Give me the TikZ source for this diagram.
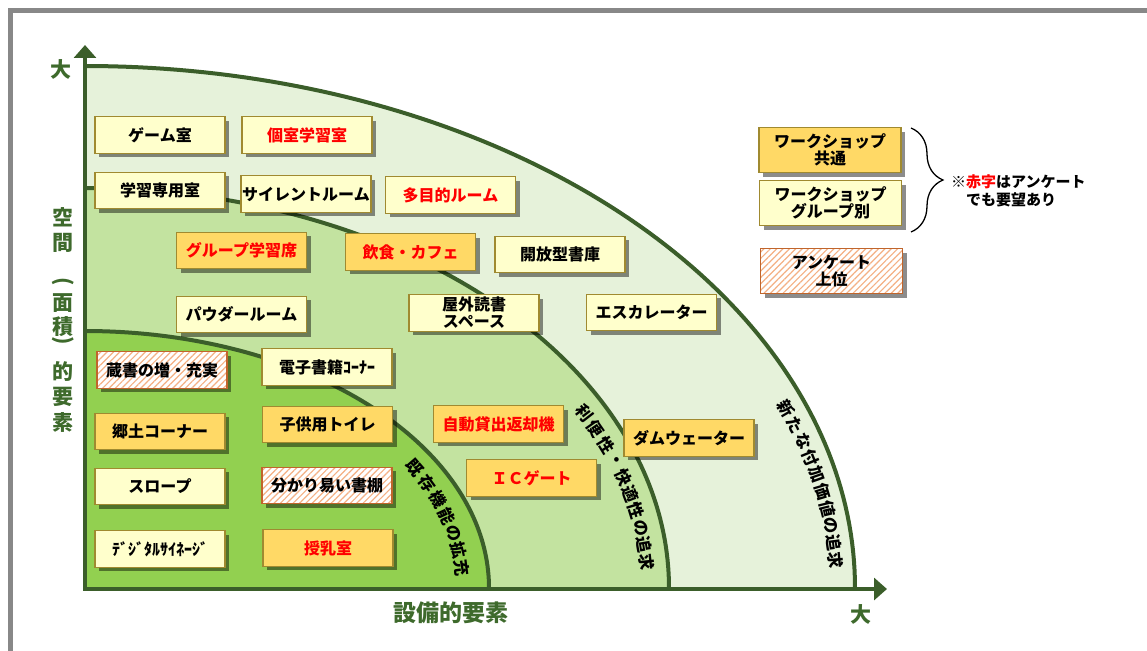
\documentclass[tikz,border=0pt]{standalone}
\usepackage{fontspec}
\setmainfont{Noto Sans CJK JP}
\usetikzlibrary{arrows.meta,shadows,patterns.meta,decorations.pathreplacing}
\definecolor{gline}{HTML}{3B5E2A}
\definecolor{glab}{HTML}{3E6A2C}
\definecolor{gouter}{HTML}{E6F2DA}
\definecolor{gmid}{HTML}{C3E3A0}
\definecolor{ginner}{HTML}{92D050}
\definecolor{byellow}{HTML}{FFFFCC}
\definecolor{borange}{HTML}{FFD966}
\definecolor{bborder}{HTML}{A08A30}
\definecolor{hatchc}{HTML}{F4B084}
\definecolor{hatchb}{HTML}{C0652C}
\definecolor{framegray}{HTML}{888888}
\begin{document}
\begin{tikzpicture}[x=1pt,y=-1pt,
  box/.style={draw=bborder, line width=1.3pt, minimum width=130pt, minimum height=36.5pt,
    inner sep=0pt, font=\bfseries\fontsize{16}{17}\selectfont, align=center,
    drop shadow={shadow xshift=4pt, shadow yshift=-4pt, fill=black, opacity=0.45}},
  ybox/.style={box, fill=byellow},
  obox/.style={box, fill=borange},
  hbox/.style={box, draw=hatchb, preaction={fill=white},
    pattern={Lines[angle=45,distance=4.5pt,line width=1.2pt]}, pattern color=hatchc},
  lbox/.style={minimum width=142pt, minimum height=45pt},
  redtxt/.style={text=red},
  axlab/.style={text=glab, font=\bfseries\fontsize{21}{21}\selectfont, inner sep=0pt},
  curvelab/.style={font=\bfseries\fontsize{16.5}{16.5}\selectfont, inner sep=0pt}
]
\useasboundingbox (0,0) rectangle (1147,650);
% frame
\draw[framegray, line width=5pt] (10.5,655) -- (10.5,10.5) -- (1152,10.5);
% regions
\fill[gouter] (85,588) -- plot[domain=90:0,samples=91] ({85+770*cos(\x)},{588-522*sin(\x)}) -- cycle;
\fill[gmid] (85,588) -- plot[domain=90:0,samples=91] ({85+584*cos(\x)},{588-400*sin(\x)}) -- cycle;
\fill[ginner] (85,588) -- plot[domain=90:0,samples=91] ({85+404*cos(\x)},{588-257*sin(\x)}) -- cycle;
\draw[gline, line width=4pt] plot[domain=90:0,samples=91] ({85+770*cos(\x)},{588-522*sin(\x)});
\draw[gline, line width=4pt] plot[domain=90:0,samples=91] ({85+584*cos(\x)},{588-400*sin(\x)});
\draw[gline, line width=4pt] plot[domain=90:0,samples=91] ({85+404*cos(\x)},{588-257*sin(\x)});
% axes
\coordinate (O) at (85,589);
\coordinate (ytip) at (85,45);
\coordinate (xtip) at (887,589);
\draw[gline, line width=4.5pt, {Triangle[length=13pt,width=22pt]}-{Triangle[length=13pt,width=22pt]}] (ytip) -- (O) -- (xtip);
% axis labels
\node[axlab] (ybig) at (61,69) {大};
\node[axlab] (xbig) at (861,614) {大};
\node[axlab, font=\bfseries\fontsize{23}{23}\selectfont] (xlab) at (451,613) {設備的要素};
\foreach \c/\yy [count=\i] in {空/217,間/243,面/303,積/327,的/372,要/397,素/422}
  \node[axlab] (yl\i) at (63,\yy) {\c};
\node[axlab, rotate=-90] (ypo) at (63,282) {(};
\node[axlab, rotate=-90] (ypc) at (63,341) {)};
% curved labels
\foreach \c [count=\i] in {既,存,機,能,の,拡,充} {
  \pgfmathsetmacro{\t}{29.3-4.1*(\i-1)}
  \pgfmathsetmacro{\r}{atan2(-245*cos(\t),378*sin(\t))}
  \node[curvelab, rotate=\r] (inl\i) at ({85+378*cos(\t)},{588-245*sin(\t)}) {\c};
}
\foreach \c [count=\i] in {利,便,性,・,快,適,性,の,追,求} {
  \pgfmathsetmacro{\t}{27.5-2.62*(\i-1)}
  \pgfmathsetmacro{\r}{atan2(-378*cos(\t),563*sin(\t))}
  \node[curvelab, rotate=\r] (mdl\i) at ({85+563*cos(\t)},{588-378*sin(\t)}) {\c};
}
\foreach \c [count=\i] in {新,た,な,付,加,価,値,の,追,求} {
  \pgfmathsetmacro{\t}{21.2-2.0*(\i-1)}
  \pgfmathsetmacro{\r}{atan2(-497*cos(\t),752*sin(\t))}
  \node[curvelab, rotate=\r] (otl\i) at ({85+752*cos(\t)},{588-497*sin(\t)}) {\c};
}
% boxes
\node[ybox] (b1) at (160,135) {ゲーム室};
\node[ybox, redtxt] (b2) at (307,135) {個室学習室};
\node[ybox] (b3) at (160,190.5) {学習専用室};
\node[ybox] (b4) at (306,194) {サイレントルーム};
\node[ybox, redtxt] (b5) at (450.5,195) {多目的ルーム};
\node[obox, redtxt] (b6) at (241.5,250.5) {グループ学習席};
\node[obox, redtxt] (b7) at (410.5,252) {飲食・カフェ};
\node[ybox] (b8) at (560,254.5) {開放型書庫};
\node[ybox] (b9) at (241.5,314.5) {パウダールーム};
\node[ybox] (b10) at (474,313) {屋外読書\\スペース};
\node[ybox] (b11) at (651.5,312.5) {エスカレーター};
\node[hbox] (b12) at (162,370) {蔵書の増・充実};
\node[ybox] (b13) at (327,367) {電子書籍ｺｰﾅｰ};
\node[obox] (b14) at (160,431.5) {郷土コーナー};
\node[obox] (b15) at (327.5,424.5) {子供用トイレ};
\node[obox, redtxt] (b16) at (498.5,424) {自動貸出返却機};
\node[ybox] (b17) at (160,486.5) {スロープ};
\node[hbox] (b18) at (327,485.5) {分かり易い書棚};
\node[obox, redtxt] (b19) at (531.5,478) {ＩＣゲート};
\node[obox] (b20) at (689,438) {ダムウェーター};
\node[ybox] (b21) at (160,549) {ﾃﾞｼﾞﾀﾙｻｲﾈｰｼﾞ};
\node[obox, redtxt] (b22) at (328,548) {授乳室};
% legend
\node[obox, lbox] (l1) at (830,150) {ワークショップ\\共通};
\node[ybox, lbox] (l2) at (830.5,203) {ワークショップ\\グループ別};
\node[hbox, lbox] (l3) at (831.5,271) {アンケート\\上位};
\coordinate (bt) at (911,128);
\coordinate (bb) at (911,232);
\draw[decorate, decoration={brace, amplitude=32pt}, line width=1.3pt] (bt) -- (bb);
\node[anchor=west, align=left, font=\bfseries\fontsize{15}{18}\selectfont, inner sep=0pt] (note) at (951,190.5) {※{\color{red}赤字}はアンケート\\\phantom{※}でも要望あり};
\end{tikzpicture}
\end{document}
